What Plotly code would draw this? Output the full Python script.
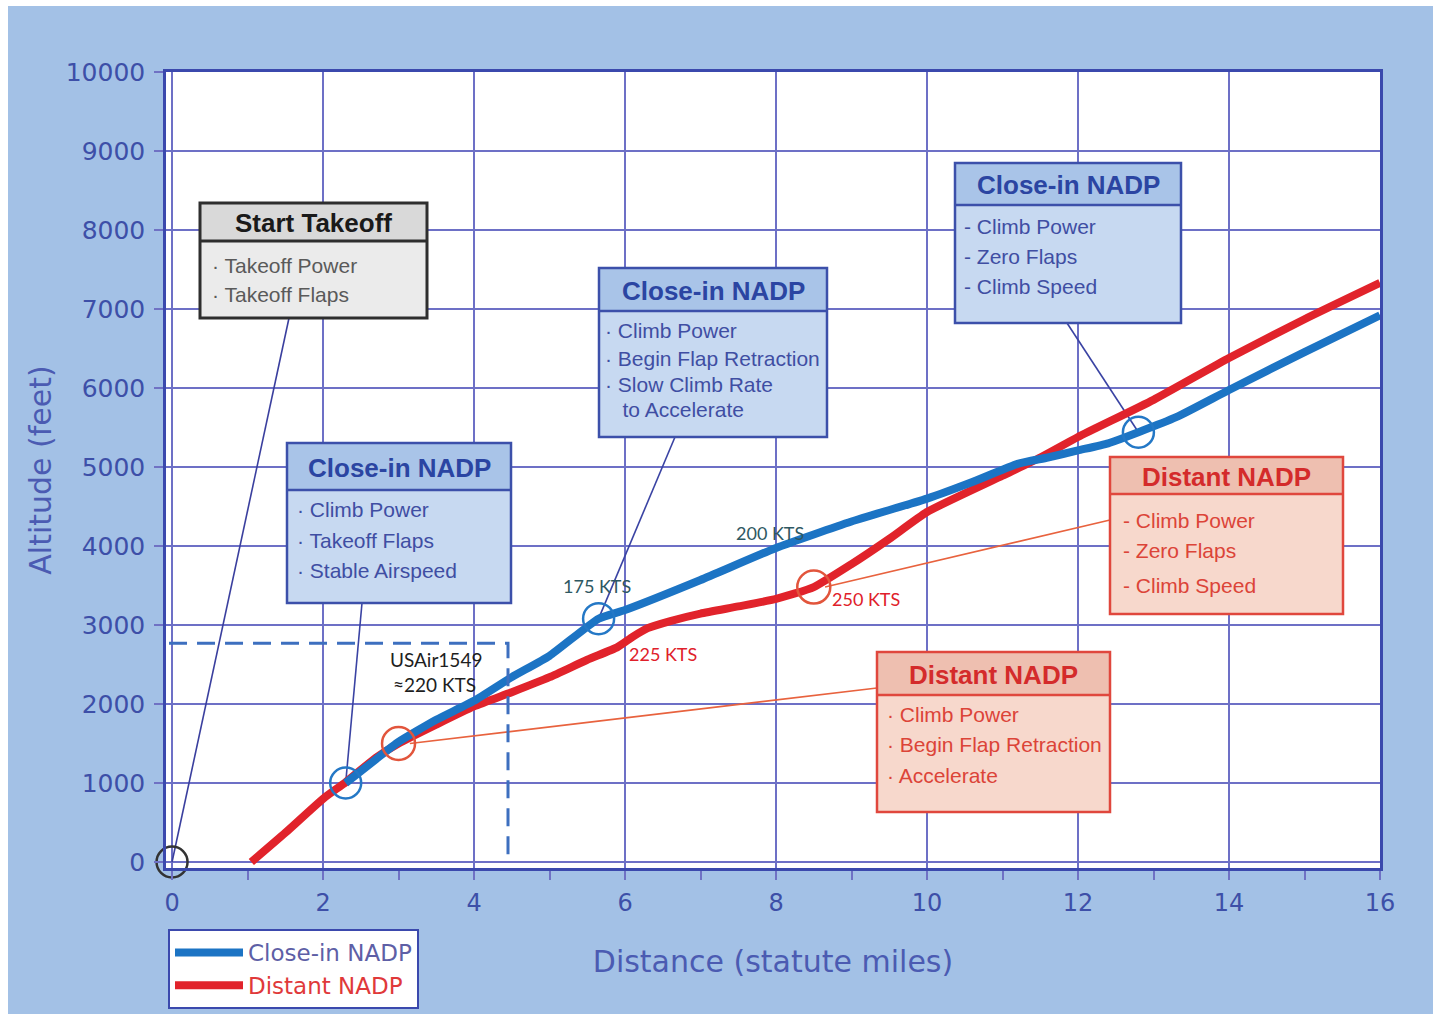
import plotly.graph_objects as go

# ---------------- data ----------------
distance_close_in = [2.3, 2.7, 3.0, 3.5, 4.0, 4.5, 5.0, 5.65, 6.0, 7.0, 8.0, 9.0,
                     10.0, 10.6, 11.2, 11.6, 12.0, 12.4, 12.8, 13.3, 14.0, 15.0, 16.0]
altitude_close_in = [1000, 1300, 1520, 1800, 2040, 2340, 2610, 3080, 3190, 3570, 3975, 4310,
                     4600, 4810, 5040, 5120, 5210, 5300, 5440, 5630, 5975, 6455, 6920]

distance_distant = [1.05, 1.5, 2.0, 2.3, 2.7, 3.0, 3.5, 4.0, 4.5, 5.0, 5.5, 5.9, 6.1, 6.3,
                    6.6, 7.0, 7.5, 8.0, 8.5, 9.0, 9.5, 10.0, 11.0, 11.5, 12.0, 13.0, 14.0, 15.0, 16.0]
altitude_distant = [0, 370, 800, 1010, 1320, 1500, 1740, 1970, 2150, 2340, 2560, 2720, 2850, 2960,
                    3050, 3145, 3235, 3330, 3480, 3770, 4090, 4430, 4890, 5120, 5380, 5850, 6380, 6870, 7330]

close_in_marker_dist = [2.3, 5.65, 12.8]
close_in_marker_alt = [1000, 3080, 5440]
distant_marker_dist = [3.0, 8.5]
distant_marker_alt = [1500, 3480]
takeoff_dist = [0]
takeoff_alt = [0]

usair_dist = 4.45
usair_alt = 2770

x_ticks = [0, 2, 4, 6, 8, 10, 12, 14, 16]
y_ticks = [0, 1000, 2000, 3000, 4000, 5000, 6000, 7000, 8000, 9000, 10000]

# ---------------- layout helpers ----------------
W, H = 1433, 1014
ML, MR, MT, MB = 166, 53, 72, 146
X0, X1 = -0.08, 16.0
Y0, Y1 = -76, 10000
PW, PH = W - ML - MR, H - MT - MB


def dx(px):
    """screen pixel -> data x"""
    return X0 + (px - ML) / PW * (X1 - X0)


def dy(py):
    """screen pixel -> data y"""
    return Y1 - (py - MT) / PH * (Y1 - Y0)


def px_paper(px):
    return (px - ML) / PW


def py_paper(py):
    return (H - MB - py) / PH


BLUE = "#1c74c4"
RED = "#e1232b"
AXIS = "#3b49ad"
GRID = "#6d70c6"
BG = "#a3c1e6"

fig = go.Figure()

# main curves
fig.add_trace(go.Scatter(
    x=distance_distant, y=altitude_distant, mode="lines",
    line=dict(color=RED, width=8, shape="spline", smoothing=0.5),
    name="<span style='color:#e0393a'>Distant NADP</span>", legendrank=2))
fig.add_trace(go.Scatter(
    x=distance_close_in, y=altitude_close_in, mode="lines",
    line=dict(color=BLUE, width=8, shape="spline", smoothing=0.5),
    name="Close-in NADP", legendrank=1))

# USAir1549 dashed reference
fig.add_trace(go.Scatter(
    x=[X0 + 0.04, usair_dist, usair_dist], y=[usair_alt, usair_alt, 0], mode="lines",
    line=dict(color="#3d6fbf", width=3, dash="18px,10px"), showlegend=False, hoverinfo="skip"))

# phase circles
fig.add_trace(go.Scatter(
    x=close_in_marker_dist, y=close_in_marker_alt, mode="markers",
    marker=dict(symbol="circle-open", size=31, color="#2478c6", line=dict(width=2.5)),
    showlegend=False, cliponaxis=False))
fig.add_trace(go.Scatter(
    x=distant_marker_dist, y=distant_marker_alt, mode="markers",
    marker=dict(symbol="circle-open", size=33, color="#e2553c", line=dict(width=2.5)),
    showlegend=False, cliponaxis=False))
fig.add_trace(go.Scatter(
    x=takeoff_dist, y=takeoff_alt, mode="markers",
    marker=dict(symbol="circle-open", size=31, color="#333333", line=dict(width=2.5)),
    showlegend=False, cliponaxis=False))

shapes = []
annotations = []

# blue page with a thin white rim on the top/left, white plot area
shapes.append(dict(type="rect", xref="paper", yref="paper", layer="below",
                   x0=px_paper(8), x1=px_paper(W + 10), y0=py_paper(H + 10), y1=py_paper(6),
                   fillcolor=BG, line=dict(width=0)))
shapes.append(dict(type="rect", xref="paper", yref="paper", layer="below",
                   x0=0, x1=1, y0=0, y1=1, fillcolor="white", line=dict(width=0)))


def connector(x0, y0, px1, py1, color):
    shapes.append(dict(type="line", xref="x", yref="y", layer="between",
                       x0=x0, y0=y0, x1=dx(px1), y1=dy(py1),
                       line=dict(color=color, width=1.6)))


connector(takeoff_dist[0], takeoff_alt[0], 289, 318, "#3a3f9e")
connector(close_in_marker_dist[0], close_in_marker_alt[0], 362, 603, "#3a43a3")
connector(close_in_marker_dist[1], close_in_marker_alt[1], 675, 437, "#3a43a3")
connector(close_in_marker_dist[2], close_in_marker_alt[2], 1067, 323, "#3a43a3")
connector(distant_marker_dist[0] + 0.15, distant_marker_alt[0], 877, 688, "#e8623e")
connector(distant_marker_dist[1] + 0.15, distant_marker_alt[1], 1110, 520, "#e8623e")


def box(x0, y0, x1, y1, yh, title, lines, line_ys, border, head_fill, body_fill,
        title_color, text_color, text_x, bw=2.5):
    shapes.append(dict(type="rect", xref="x", yref="y", layer="between",
                       x0=dx(x0), x1=dx(x1), y0=dy(yh), y1=dy(y1),
                       fillcolor=body_fill, line=dict(width=0)))
    shapes.append(dict(type="rect", xref="x", yref="y", layer="between",
                       x0=dx(x0), x1=dx(x1), y0=dy(y0), y1=dy(yh),
                       fillcolor=head_fill, line=dict(width=0)))
    shapes.append(dict(type="line", xref="x", yref="y", layer="between",
                       x0=dx(x0), x1=dx(x1), y0=dy(yh), y1=dy(yh),
                       line=dict(color=border, width=bw)))
    shapes.append(dict(type="rect", xref="x", yref="y", layer="between",
                       x0=dx(x0), x1=dx(x1), y0=dy(y0), y1=dy(y1),
                       line=dict(color=border, width=bw)))
    annotations.append(dict(xref="x", yref="y", x=dx((x0 + x1) / 2), y=dy((y0 + yh) / 2 + 1),
                            text="<b>%s</b>" % title, showarrow=False,
                            xanchor="center", yanchor="middle",
                            font=dict(family="Liberation Sans", size=26, color=title_color)))
    for t, ly in zip(lines, line_ys):
        annotations.append(dict(xref="x", yref="y", x=dx(text_x), y=dy(ly), text=t,
                                showarrow=False, xanchor="left", yanchor="middle",
                                font=dict(family="Liberation Sans", size=21, color=text_color)))


B_BORDER, B_HEAD, B_BODY, B_TITLE, B_TEXT = "#3c50aa", "#a9c4e8", "#c7d9f1", "#2b45a2", "#3f4ea3"
R_BORDER, R_HEAD, R_BODY, R_TITLE, R_TEXT = "#e0473d", "#eebfb0", "#f7d8cc", "#d42b2b", "#dc4438"

box(200, 203, 427, 318, 241, "Start Takeoff",
    ["· Takeoff Power", "· Takeoff Flaps"], [265, 294],
    "#2e2e2e", "#d9d9d9", "#ebebeb", "#1a1a1a", "#5a5a5a", 210, bw=3)
box(287, 443, 511, 603, 490, "Close-in NADP",
    ["· Climb Power", "· Takeoff Flaps", "· Stable Airspeed"], [509, 540, 570],
    B_BORDER, B_HEAD, B_BODY, B_TITLE, B_TEXT, 295)
box(599, 268, 827, 437, 311, "Close-in NADP",
    ["· Climb Power", "· Begin Flap Retraction", "· Slow Climb Rate", "   to Accelerate"],
    [330, 358, 384, 409],
    B_BORDER, B_HEAD, B_BODY, B_TITLE, B_TEXT, 603)
box(955, 163, 1181, 323, 205, "Close-in NADP",
    ["- Climb Power", "- Zero Flaps", "- Climb Speed"], [226, 256, 286],
    B_BORDER, B_HEAD, B_BODY, B_TITLE, B_TEXT, 962)
box(877, 652, 1110, 812, 695, "Distant NADP",
    ["· Climb Power", "· Begin Flap Retraction", "· Accelerate"], [714, 744, 775],
    R_BORDER, R_HEAD, R_BODY, R_TITLE, R_TEXT, 885)
box(1110, 457, 1343, 614, 494, "Distant NADP",
    ["- Climb Power", "- Zero Flaps", "- Climb Speed"], [520, 550, 585],
    R_BORDER, R_HEAD, R_BODY, R_TITLE, R_TEXT, 1121)


def label(px, py, text, color, size=18):
    annotations.append(dict(xref="x", yref="y", x=dx(px), y=dy(py), text=text, showarrow=False,
                            xanchor="center", yanchor="middle",
                            font=dict(family="Lato", size=size, color=color)))


label(597, 586, "175 KTS", "#2e5862")
label(770, 533, "200 KTS", "#2e5862")
label(663, 654, "225 KTS", "#e0202a")
label(866, 599, "250 KTS", "#e0202a")
label(436, 659, "USAir1549", "#1e1e1e", 19)
label(434, 684, "≈220 KTS", "#1e1e1e", 19)

fig.update_layout(
    width=W, height=H,
    margin=dict(l=ML, r=MR, t=MT, b=MB, autoexpand=False),
    paper_bgcolor="white", plot_bgcolor="white",
    shapes=shapes, annotations=annotations,
    showlegend=True,
    legend=dict(x=px_paper(168), y=py_paper(1009),
                xanchor="left", yanchor="bottom",
                bgcolor="white", bordercolor=AXIS, borderwidth=2,
                font=dict(family="DejaVu Sans", size=23, color="#5e5fa6"),
                traceorder="normal", itemwidth=68),
    xaxis=dict(range=[X0, X1], tickvals=x_ticks, showgrid=True, gridcolor=GRID, gridwidth=1.5,
               zeroline=False, showline=True, mirror=True, linecolor=AXIS, linewidth=2.5,
               ticks="outside", ticklen=9, tickwidth=1.5, tickcolor="#6f71c4",
               minor=dict(ticks="outside", dtick=1, tick0=0, ticklen=9, tickwidth=1.5,
                          tickcolor="#6f71c4", showgrid=False),
               tickfont=dict(family="DejaVu Sans", size=24, color="#3d4fa8"),
               ticklabelstandoff=2,
               title=dict(text="Distance (statute miles)", standoff=36,
                          font=dict(family="DejaVu Sans", size=30, color="#4b5bb2"))),
    yaxis=dict(range=[Y0, Y1], tickvals=y_ticks, tickformat="d", showgrid=True,
               gridcolor=GRID, gridwidth=1.5,
               zeroline=False, showline=True, mirror=True, linecolor=AXIS, linewidth=2.5,
               ticks="outside", ticklen=9, tickwidth=1.5, tickcolor="#6f71c4",
               tickfont=dict(family="DejaVu Sans", size=25, color="#3d4fa8"),
               ticklabelstandoff=4,
               title=dict(text="Altitude (feet)", standoff=6,
                          font=dict(family="DejaVu Sans", size=30, color="#4b5bb2"))),
)

POST = (
    "var s=document.documentElement.style, b=document.body.style;"
    "s.margin='0';s.padding='0';s.overflow='hidden';s.background='%s';"
    "b.margin='0';b.padding='0';b.overflow='hidden';b.background='%s';"
) % (BG, BG)

fig.write_html("out.html", config=dict(displayModeBar=False), post_script=POST)
